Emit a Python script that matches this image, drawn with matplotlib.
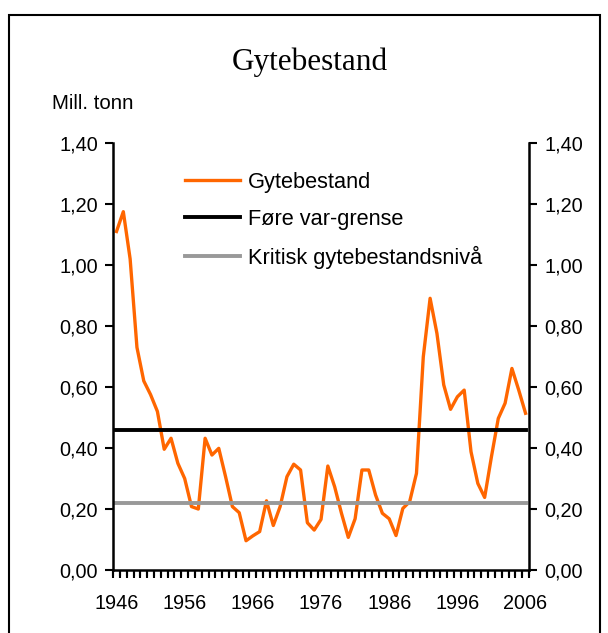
import matplotlib
matplotlib.use('Agg')
import matplotlib.pyplot as plt
from matplotlib.patches import Rectangle

plt.rcParams['font.family'] = ['Liberation Sans', 'DejaVu Sans']

years = list(range(1946, 2007))
gytebestand = [1.11, 1.175, 1.02, 0.73, 0.62, 0.575, 0.52, 0.396, 0.432, 0.35,
               0.30, 0.208, 0.200, 0.432, 0.377, 0.399, 0.306, 0.208, 0.188, 0.096,
               0.112, 0.126, 0.227, 0.146, 0.208, 0.306, 0.347, 0.328, 0.155, 0.131,
               0.166, 0.341, 0.273, 0.186, 0.107, 0.168, 0.328, 0.328, 0.246, 0.186,
               0.168, 0.113, 0.202, 0.224, 0.317, 0.699, 0.891, 0.776, 0.607, 0.527,
               0.568, 0.590, 0.388, 0.284, 0.238, 0.372, 0.497, 0.547, 0.661, 0.590,
               0.514]
fore_var = 0.46
kritisk = 0.22
yticks = [0.0, 0.2, 0.4, 0.6, 0.8, 1.0, 1.2, 1.4]
xlabels = [1946, 1956, 1966, 1976, 1986, 1996, 2006]

fig = plt.figure(figsize=(6.08, 6.33), dpi=100)
ax = fig.add_axes([0.186, 0.0995, 0.684, 0.6745])

ax.plot(years, gytebestand, color='#FF6600', lw=2.4, label='Gytebestand')
ax.plot([years[0], years[-1]], [fore_var, fore_var], color='black', lw=2.8,
        label='Føre var-grense')
ax.plot([years[0], years[-1]], [kritisk, kritisk], color='#999999', lw=2.8,
        label='Kritisk gytebestandsnivå')

ax.set_xlim(1945.5, 2006.5)
ax.set_ylim(0, 1.4)
ax.set_yticks(yticks)
ax.set_yticklabels([f'{v:.2f}'.replace('.', ',') for v in yticks])

# category boundaries get a tick mark, years every 10 get a label
bounds = [y - 0.5 for y in years] + [years[-1] + 0.5]
ax.set_xticks(bounds)
ax.set_xticklabels([])
ax.set_xticks(xlabels, minor=True)
ax.set_xticklabels([str(y) for y in xlabels], minor=True)
ax.tick_params(axis='x', which='major', length=5.5, width=1.5, direction='out')
ax.tick_params(axis='x', which='minor', length=0, pad=17, labelsize=14.3)
ax.vlines(bounds, -0.013, 0, transform=ax.get_xaxis_transform(), clip_on=False,
          color='black', lw=1.5)
# same scale on both sides, Excel style
ax.tick_params(axis='y', length=6, width=1.5, direction='out', labelsize=14.3, pad=5,
               left=True, right=True, labelleft=True, labelright=True)

for s in ['left', 'right', 'bottom']:
    ax.spines[s].set_linewidth(1.8)
ax.spines['top'].set_visible(False)

ax.legend(loc='upper left', bbox_to_anchor=(0.173, 0.933), frameon=False,
          borderaxespad=0, borderpad=0,
          fontsize=15.7, handlelength=2.5, handletextpad=0.4, labelspacing=0.74)

fig.text(0.51, 0.901, 'Gytebestand', ha='center', va='center', fontsize=22.5,
         family='Liberation Serif')
fig.text(0.086, 0.837, 'Mill. tonn', ha='left', va='center', fontsize=14.8)

fig.patches.append(Rectangle((0.014, -0.1), 0.973, 1.077, transform=fig.transFigure,
                             fill=False, edgecolor='black', lw=1.5))

plt.savefig('out.png', dpi=100)
